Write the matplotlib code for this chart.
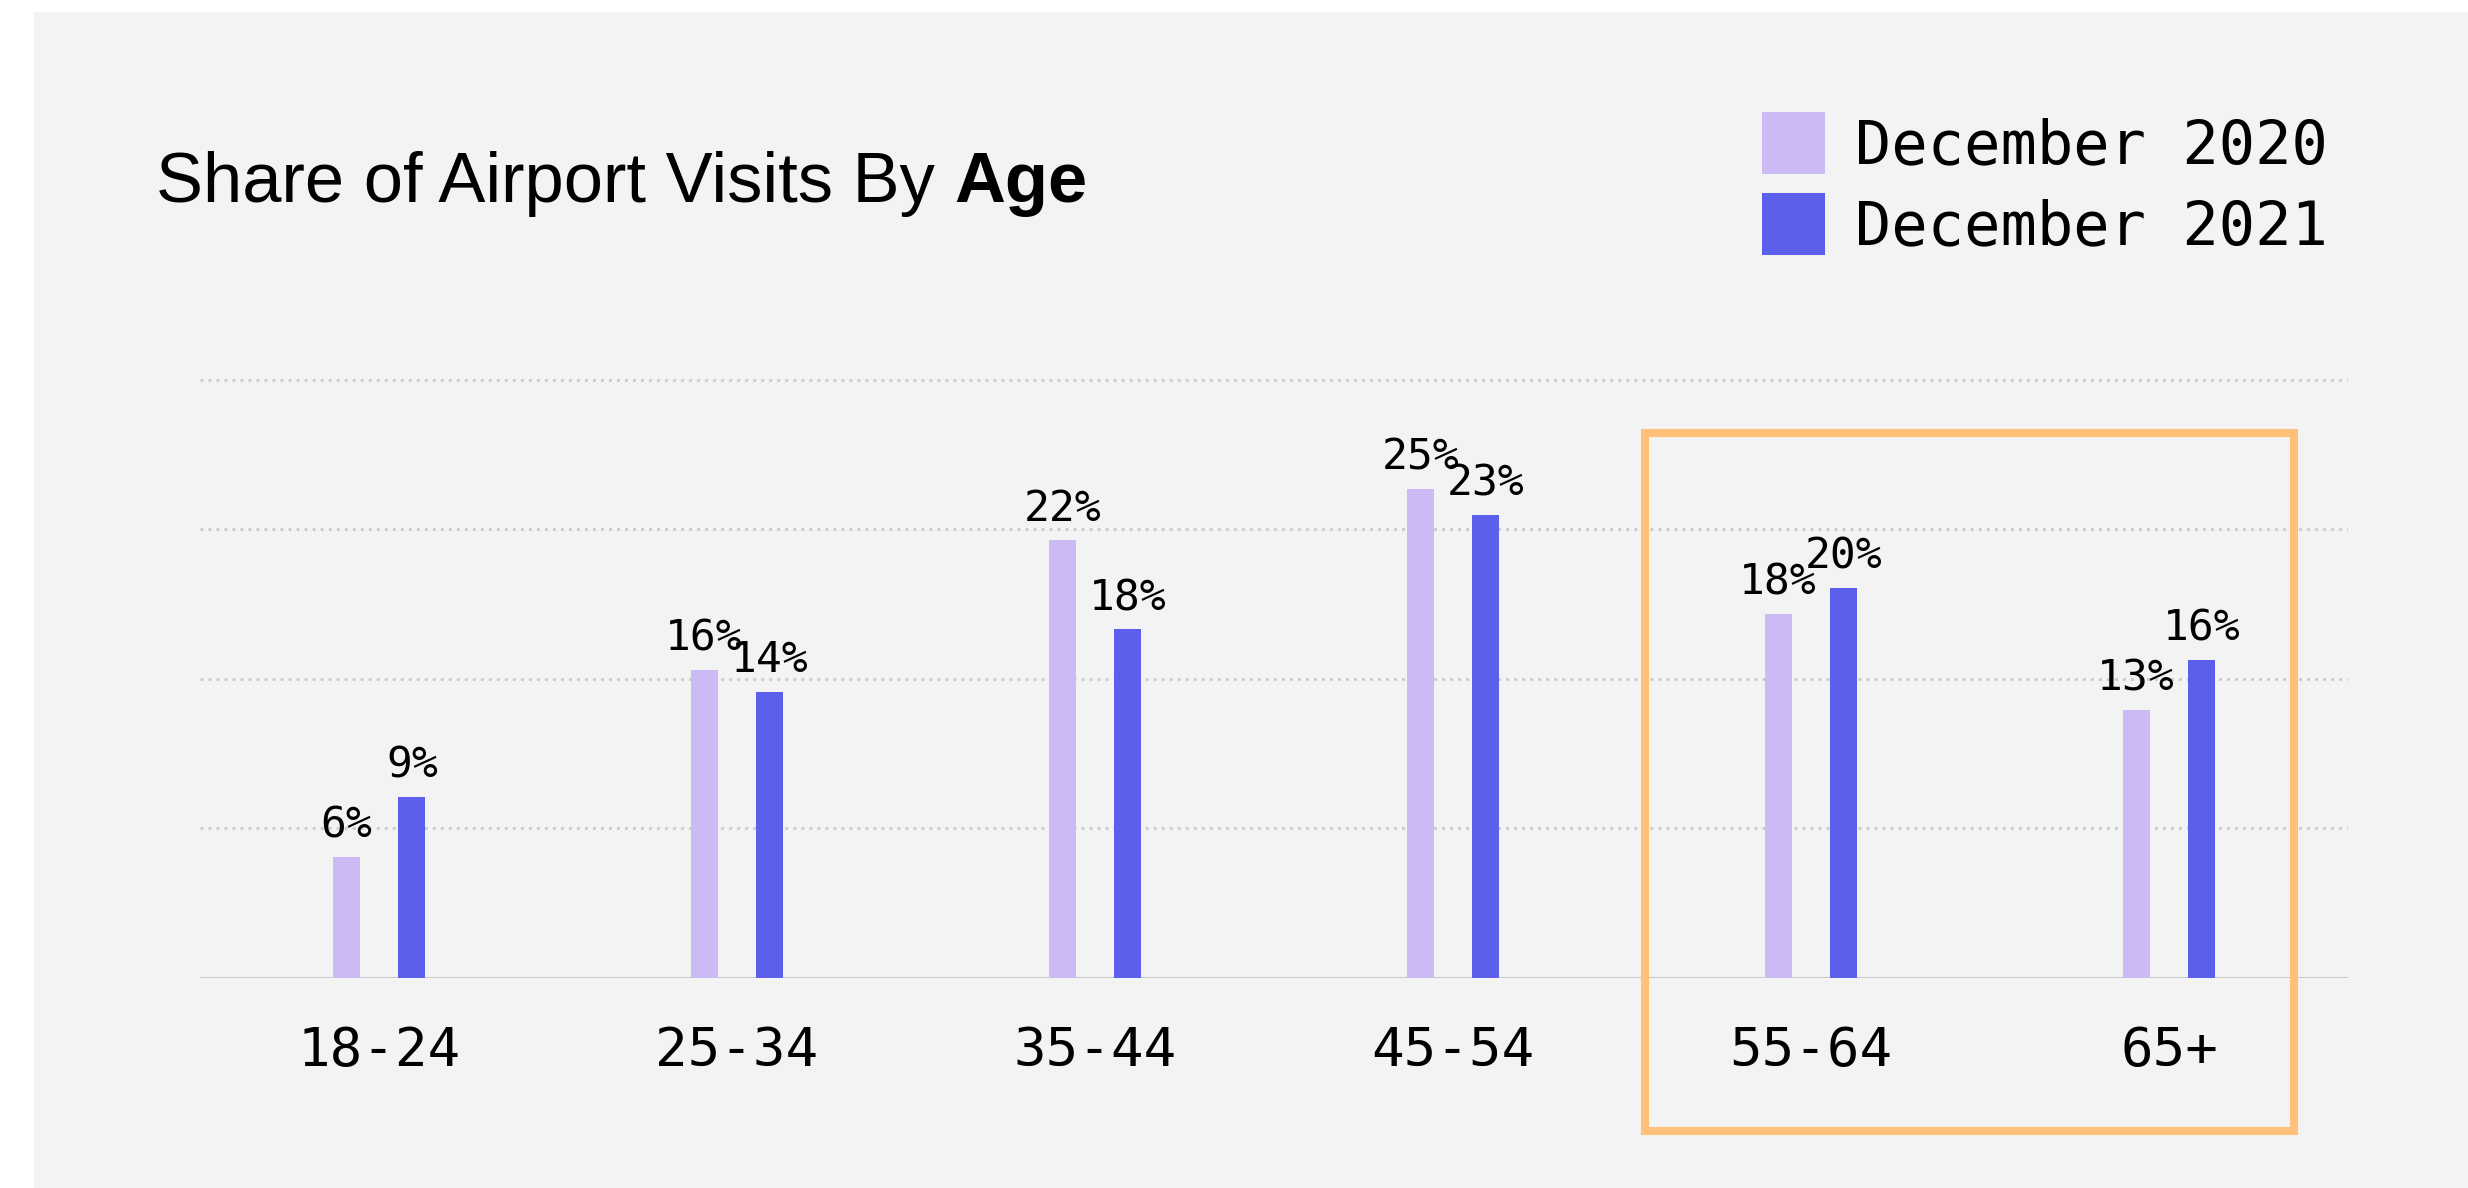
import matplotlib
matplotlib.use("Agg")
import matplotlib.pyplot as plt
from matplotlib.patches import Rectangle
import numpy as np

# ---- data ----
age_groups = ["18-24", "25-34", "35-44", "45-54", "55-64", "65+"]
series_names = ["December 2020", "December 2021"]
share_2020 = [6.06, 15.45, 21.95, 24.54, 18.26, 13.45]   # bar heights (%)
share_2021 = [9.04, 14.35, 17.47, 23.20, 19.57, 15.96]
label_2020 = [6, 16, 22, 25, 18, 13]                     # printed labels (%)
label_2021 = [9, 14, 18, 23, 20, 16]
grid_values = [7.5, 15, 22.5, 30]

# ---- style ----
W, H, DPI = 2468, 1188, 100
c2020 = "#CCBAF5"
c2021 = "#5B5FEC"
panel_color = "#F3F3F3"
grid_color = "#CDCDCD"
base_color = "#C6CACD"
box_color = "#FFC07A"
mono = "DejaVu Sans Mono"
sans = "Liberation Sans"

fig = plt.figure(figsize=(W / DPI, H / DPI), dpi=DPI, facecolor="white")

# background panel
fig.patches.append(Rectangle((34 / W, 0), 1 - 34 / W, (H - 12) / H,
                             transform=fig.transFigure, facecolor=panel_color,
                             edgecolor="none", zorder=-10))

px_per_unit = 149.4 / 7.5
ymax = 31
ax_left, ax_right = 200, 2348
ax_base = 977.5
ax_h = ymax * px_per_unit
ax = fig.add_axes([ax_left / W, (H - ax_base) / H, (ax_right - ax_left) / W, ax_h / H])
ax.set_facecolor("none")
ax.set_zorder(1)
ax.set_xlim(-0.5, len(age_groups) - 0.5)
ax.set_ylim(0, ymax)

x = np.arange(len(age_groups))
off = 0.092
bw = 0.0755
b1 = ax.bar(x - off, share_2020, width=bw, color=c2020, zorder=3, label=series_names[0])
b2 = ax.bar(x + off, share_2021, width=bw, color=c2021, zorder=3, label=series_names[1])

for xs, hs, ls in [(x - off, share_2020, label_2020), (x + off, share_2021, label_2021)]:
    for xi, hi, li in zip(xs, hs, ls):
        ax.annotate(f"{li}%", xy=(xi, hi), xytext=(0, 14), textcoords="offset points",
                    ha="center", va="baseline", fontsize=31, family=mono,
                    color="black", zorder=5)

# grid and baseline
for gv in grid_values:
    ax.axhline(gv, color=grid_color, lw=2.16, linestyle=(0, (1, 1.67)),
               dash_capstyle="butt", zorder=1)
ax.axhline(0, color=base_color, lw=2.2, zorder=2)

for s in ax.spines.values():
    s.set_visible(False)
ax.set_yticks([])
ax.set_xticks(x)
ax.set_xticklabels(age_groups, fontsize=39, family=mono)
ax.tick_params(axis="x", length=0, pad=34)

# highlight box around the last two groups
ax.add_patch(Rectangle((3.535, -7.71), 5.348 - 3.535, 27.33 + 7.71, fill=False,
                       edgecolor=box_color, lw=5.8, clip_on=False, zorder=4))

# legend
ax.legend(handles=[b1, b2], labels=series_names, loc="upper left",
          bbox_to_anchor=(1762 / W, 1 - 112 / H), bbox_transform=fig.transFigure,
          frameon=False, prop={"family": mono, "size": 43.5},
          handlelength=1.04, handleheight=1.2, handletextpad=0.5,
          labelspacing=0.28, borderpad=0, borderaxespad=0)

# title: regular part + bold part
ty = 1 - 201.7 / H
tfs = 50.8
t1 = fig.text(156 / W, ty, "Share of Airport Visits By", fontsize=tfs, family=sans,
              va="baseline", ha="left", color="black")
fig.canvas.draw()
r = fig.canvas.get_renderer()
bb = t1.get_window_extent(renderer=r)
space_px = 0.278 * tfs * DPI / 72
fig.text((bb.x1 + space_px) / W, ty, "Age", fontsize=tfs, family=sans,
         fontweight="bold", va="baseline", ha="left", color="black")

fig.savefig("out.png", dpi=DPI, facecolor="white")
